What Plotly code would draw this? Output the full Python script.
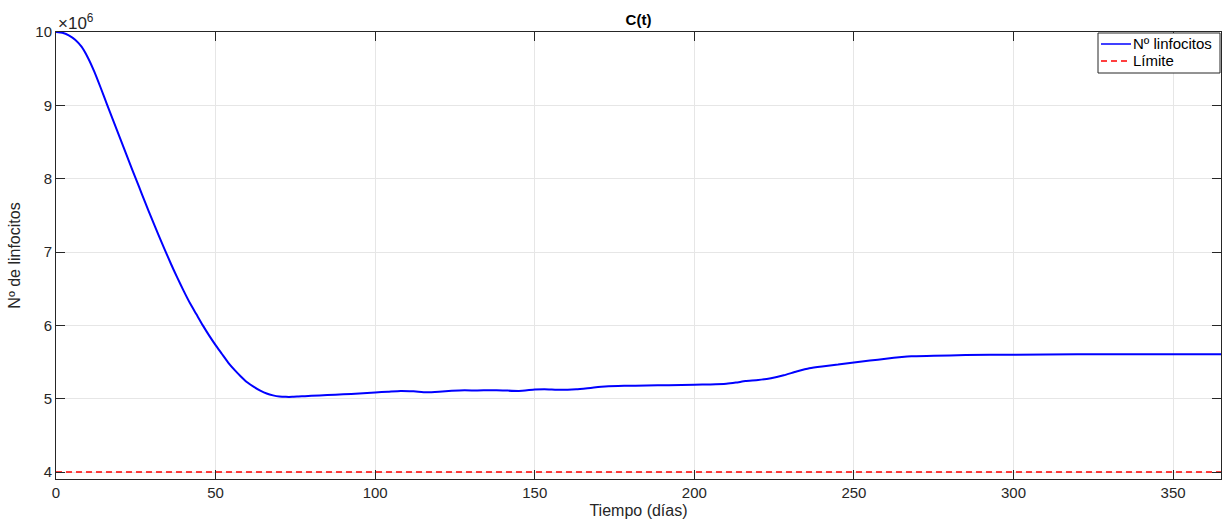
import plotly.graph_objects as go

# Time (days)
t = [0, 2, 4, 6, 8, 10, 12, 14, 16, 18, 20, 22, 24, 26, 28, 30, 32, 34, 36, 38, 40,
     42, 44, 46, 48, 50, 52, 54, 56, 58, 60, 62, 64, 66, 68, 70, 72, 74, 76, 78, 80,
     85, 90, 95, 100, 104, 108, 112, 116, 120, 124, 128, 132, 136, 140, 145, 150, 153,
     158, 163, 168, 172, 178, 185, 192, 200, 205, 210, 213, 216, 220, 224, 228, 232,
     236, 240, 245, 250, 255, 260, 265, 268, 275, 285, 300, 320, 340, 365]

# Number of lymphocytes (x 1e6)
linfocitos = [10.0, 9.99, 9.955, 9.895, 9.80, 9.65, 9.46, 9.24, 9.01, 8.785, 8.56, 8.335,
              8.11, 7.89, 7.67, 7.455, 7.245, 7.04, 6.84, 6.65, 6.47, 6.30, 6.15, 6.00,
              5.86, 5.73, 5.61, 5.49, 5.39, 5.30, 5.22, 5.16, 5.11, 5.07, 5.045, 5.03,
              5.025, 5.025, 5.03, 5.035, 5.04, 5.05, 5.06, 5.07, 5.085, 5.095, 5.105,
              5.10, 5.088, 5.095, 5.108, 5.115, 5.112, 5.115, 5.113, 5.105, 5.125, 5.13,
              5.122, 5.13, 5.15, 5.165, 5.175, 5.18, 5.185, 5.19, 5.195, 5.205, 5.22,
              5.24, 5.255, 5.28, 5.32, 5.37, 5.415, 5.44, 5.465, 5.495, 5.52, 5.545,
              5.57, 5.58, 5.585, 5.595, 5.60, 5.605, 5.605, 5.605]

limite_t = [0, 365]
limite = [4.0, 4.0]

x_ticks = [0, 50, 100, 150, 200, 250, 300, 350]
y_ticks = [4, 5, 6, 7, 8, 9, 10]

series_names = ["Nº linfocitos", "Límite"]
series_colors = ["#0000ff", "#ff0000"]

FONT = "Liberation Sans, Arial, sans-serif"
TXT = "#262626"

W, H = 1226, 524
L, R, T, B = 56, 5, 32, 45
PW, PH = W - L - R, H - T - B


def px_x(p):
    return (p - L) / PW


def px_y(p):
    return (H - B - p) / PH


fig = go.Figure()
fig.add_trace(go.Scatter(x=t, y=linfocitos, mode="lines", name=series_names[0],
                         showlegend=False,
                         line=dict(color=series_colors[0], width=2, shape="spline", smoothing=0.5)))
fig.add_trace(go.Scatter(x=limite_t, y=limite, mode="lines", name=series_names[1],
                         showlegend=False,
                         line=dict(color=series_colors[1], width=1.5, dash="6px,4px")))

axis_common = dict(showline=True, linecolor="#262626", linewidth=1, mirror="ticks",
                   ticks="inside", ticklen=9, tickcolor="#262626", tickwidth=1,
                   showgrid=True, gridcolor="#e6e6e6", gridwidth=1, zeroline=False,
                   tickfont=dict(family=FONT, size=15, color=TXT))

fig.update_layout(
    width=W, height=H,
    margin=dict(l=L, r=R, t=T, b=B),
    plot_bgcolor="white", paper_bgcolor="white",
    title=dict(text="<b>C(t)</b>", x=(56 + 1221) / 2 / W, xanchor="center",
               y=1 - 20 / H, yanchor="middle",
               font=dict(family=FONT, size=15, color="#000000")),
    xaxis=dict(range=[0, 365], tickvals=x_ticks,
               title=dict(text="Tiempo (días)", standoff=4,
                          font=dict(family=FONT, size=16, color=TXT)),
               **axis_common),
    yaxis=dict(range=[3.905, 10], tickvals=y_ticks,
               title=dict(text="Nº de linfocitos", standoff=10,
                          font=dict(family=FONT, size=16, color=TXT)),
               **axis_common),
    showlegend=False,
)

# exponent label
fig.add_annotation(text="×10<sup>6</sup>", xref="paper", yref="paper",
                   x=0, y=1, xanchor="left", yanchor="bottom", showarrow=False,
                   font=dict(family=FONT, size=17, color=TXT), yshift=-3)

# manual legend (MATLAB style)
box = dict(x0=1098, x1=1220, y0=33, y1=73)
fig.add_shape(type="rect", xref="paper", yref="paper",
              x0=px_x(box["x0"]), x1=px_x(box["x1"]),
              y0=px_y(box["y1"]), y1=px_y(box["y0"]),
              line=dict(color="#262626", width=1), fillcolor="white", layer="above")
rows = [44, 61]
dashes = ["solid", "6px,4px"]
for name, col, dsh, ry in zip(series_names, series_colors, dashes, rows):
    fig.add_shape(type="line", xref="paper", yref="paper",
                  x0=px_x(1101), x1=px_x(1131), y0=px_y(ry), y1=px_y(ry),
                  line=dict(color=col, width=1.5, dash=dsh), layer="above")
    fig.add_annotation(text=name, xref="paper", yref="paper",
                       x=px_x(1131), y=px_y(ry), xanchor="left", yanchor="middle",
                       showarrow=False,
                       font=dict(family=FONT, size=15, color="#000000"))

fig.write_html("out.html")
